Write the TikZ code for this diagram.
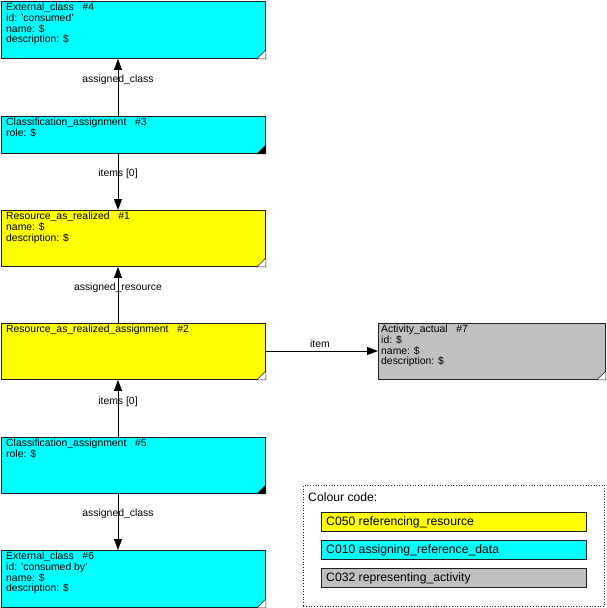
\documentclass[tikz,border=0pt]{standalone}
\usepackage{fontspec}
\setmainfont{Liberation Sans}
\usetikzlibrary{arrows.meta}
\definecolor{cyanfill}{HTML}{00FFFF}
\definecolor{yellowfill}{HTML}{FFFF00}
\definecolor{grayfill}{HTML}{C0C0C0}
\definecolor{edgecol}{HTML}{202020}
\begin{document}
\begin{tikzpicture}[x=1pt,y=-1pt,
  box/.style={draw=edgecol,line width=0.9pt,rectangle,anchor=north west,inner sep=0pt,minimum width=264pt},
  boxtext/.style={anchor=north west,align=left,inner sep=0pt,font=\fontsize{10.4}{10.7}\selectfont},
  arr/.style={-{Triangle[length=11pt,width=8pt]},line width=0.8pt,black},
  elabel/.style={font=\fontsize{10.4}{10}\selectfont,inner sep=0pt},
  cornerw/.style={draw=edgecol,line width=0.5pt,fill=white},
  cornerb/.style={draw=edgecol,line width=0.5pt,fill=black},
  legbox/.style={draw=edgecol,line width=0.9pt,rectangle,anchor=north west,inner sep=0pt,minimum width=265pt,minimum height=19pt},
  legtext/.style={anchor=west,inner sep=0pt,font=\fontsize{12.2}{13}\selectfont}
]
\useasboundingbox (0,0) rectangle (606,608);
\coordinate (ax) at (118,0);
% boxes
\node[box,fill=cyanfill,minimum height=57pt] (n4) at (1,1) {};
\node[box,fill=cyanfill,minimum height=37pt] (n3) at (1,116) {};
\node[box,fill=yellowfill,minimum height=56pt] (n1) at (1,210) {};
\node[box,fill=yellowfill,minimum height=56pt] (n2) at (1,323) {};
\node[box,fill=grayfill,minimum height=56pt,minimum width=227pt] (n7) at (378,323) {};
\node[box,fill=cyanfill,minimum height=56pt] (n5) at (1,437) {};
\node[box,fill=cyanfill,minimum height=57pt] (n6) at (1,550) {};
% corner markers
\foreach \n in {n4,n1,n2,n7,n6}{
  \filldraw[cornerw] ([xshift=-9pt]\n.south east) -- (\n.south east) -- ([yshift=9pt]\n.south east) -- cycle;
}
\foreach \n in {n3,n5}{
  \filldraw[cornerb] ([xshift=-9pt]\n.south east) -- (\n.south east) -- ([yshift=9pt]\n.south east) -- cycle;
}
% texts
\node[boxtext] (t4) at ([xshift=5pt,yshift=-2pt]n4.north west) {External\_class\ \ \ \#4\\id: 'consumed'\\name: \$\\description: \$};
\node[boxtext] (t3) at ([xshift=5pt,yshift=-2pt]n3.north west) {Classification\_assignment\ \ \ \#3\\role: \$};
\node[boxtext] (t1) at ([xshift=5pt,yshift=-2pt]n1.north west) {Resource\_as\_realized\ \ \ \#1\\name: \$\\description: \$};
\node[boxtext] (t2) at ([xshift=5pt,yshift=-2pt]n2.north west) {Resource\_as\_realized\_assignment\ \ \ \#2};
\node[boxtext] (t7) at ([xshift=3pt,yshift=-2pt]n7.north west) {Activity\_actual\ \ \ \#7\\id: \$\\name: \$\\description: \$};
\node[boxtext] (t5) at ([xshift=5pt,yshift=-2pt]n5.north west) {Classification\_assignment\ \ \ \#5\\role: \$};
\node[boxtext] (t6) at ([xshift=5pt,yshift=-2pt]n6.north west) {External\_class\ \ \ \#6\\id: 'consumed by'\\name: \$\\description: \$};
% connectors
\draw[arr] (n3.north -| ax) -- (n4.south -| ax);
\draw[arr] (n3.south -| ax) -- (n1.north -| ax);
\draw[arr] (n2.north -| ax) -- (n1.south -| ax);
\draw[arr] (n5.north -| ax) -- (n2.south -| ax);
\draw[arr] (n5.south -| ax) -- (n6.north -| ax);
\draw[arr] (n2.east |- 0,351) -- (n7.west |- 0,351);
% edge labels
\node[elabel] (l1) at (118,80) {assigned\_class};
\node[elabel] (l2) at (118,174) {items [0]};
\node[elabel] (l3) at (118,288) {assigned\_resource};
\node[elabel] (l4) at (118,402) {items [0]};
\node[elabel] (l5) at (118,514) {assigned\_class};
\node[elabel] (l6) at (320,344) {item};
% legend
\node[draw=edgecol,dotted,line width=0.7pt,rectangle,anchor=north west,minimum width=301pt,minimum height=121pt,inner sep=0pt] (leg) at (303,485) {};
\node[legtext] (legt) at (308,497) {Colour code:};
\node[legbox,fill=yellowfill] (lg1) at (321,512) {};
\node[legbox,fill=cyanfill] (lg2) at (321,540) {};
\node[legbox,fill=grayfill] (lg3) at (321,568) {};
\node[legtext] at ([xshift=5pt]lg1.west) {C050 referencing\_resource};
\node[legtext] at ([xshift=5pt]lg2.west) {C010 assigning\_reference\_data};
\node[legtext] at ([xshift=5pt]lg3.west) {C032 representing\_activity};
\end{tikzpicture}
\end{document}
